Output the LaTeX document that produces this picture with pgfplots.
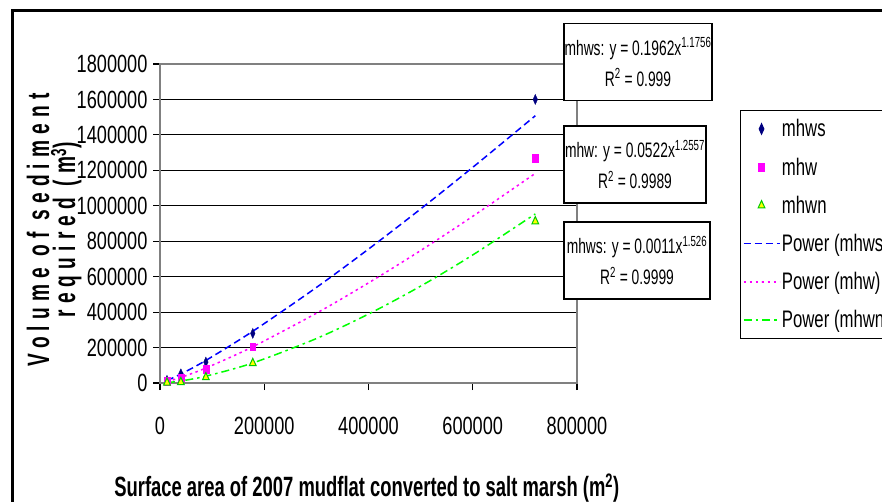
\documentclass[border=0pt]{standalone}
\usepackage{pgfplots}
\pgfplotsset{compat=1.18}
\usepackage{fontspec}
\setmainfont{Liberation Sans}[FakeStretch=0.73]
\newfontfamily\legfont{Liberation Sans}[FakeStretch=0.70]
\newfontfamily\boxfont{Liberation Sans}[FakeStretch=0.66]
\newfontfamily\xlabfont{Liberation Sans}[FakeStretch=0.66]
\newfontfamily\ylabfont{Liberation Sans}[FakeStretch=0.62, LetterSpace=20]
\definecolor{navy}{HTML}{000080}
\definecolor{mag}{HTML}{FF00FF}
\definecolor{lgreen}{HTML}{00FF00}
\definecolor{tyellow}{HTML}{FFFF00}
\definecolor{pblue}{HTML}{0000FF}
\begin{document}
\begin{tikzpicture}
\clip (0,0) rectangle (882bp,-502bp);
\fill[white] (0,0) rectangle (882bp,-502bp);
\draw[line width=3bp] (12.5bp,-520bp) -- (12.5bp,-10.5bp) -- (900bp,-10.5bp);
\begin{axis}[
  at={(160bp,-383bp)}, anchor=south west,
  scale only axis, width=417bp, height=319bp,
  xmin=0, xmax=800000, ymin=0, ymax=1800000,
  xtick={0,200000,400000,600000,800000},
  ytick={0,200000,400000,600000,800000,1000000,1200000,1400000,1600000,1800000},
  scaled ticks=false,
  /pgf/number format/assume math mode=true,
  /pgf/number format/fixed,
  /pgf/number format/1000 sep={},
  tick label style={font=\fontsize{25}{25}\selectfont, black},
  xticklabel style={yshift=-24bp},
  yticklabel style={xshift=-2bp},
  tick align=outside, major tick length=7bp,
  tick pos=left,
  tick style={black, line width=1.2bp},
  ymajorgrids, major grid style={black, line width=1.2bp},
  axis line style={draw=gray, line width=1.5bp},
  xlabel={Surface area of 2007 mudflat converted to salt marsh (m\textsuperscript{2})},
  xlabel style={at={(rel axis cs:0.496,-0.330)}, anchor=center, font=\fontsize{28}{28}\xlabfont\bfseries},
  ylabel={Volume of sediment\\required (m\textsuperscript{3})},
  ylabel style={at={(rel axis cs:-0.254,0.48)}, anchor=center, rotate=0, align=center,
    font=\fontsize{31}{26}\ylabfont\bfseries},
  legend style={at={(rel axis cs:1.391,0.856)}, anchor=north west, draw=black, line width=1.2bp, fill=white,
    font=\fontsize{24}{24}\legfont, row sep=15.4bp, inner xsep=2bp, inner ysep=7bp,
    nodes={inner xsep=1.5bp}},
  legend cell align=left,
  legend image code/.code={\draw[mark repeat=2,mark phase=2,#1] plot coordinates {(0bp,0bp) (18bp,0bp) (36bp,0bp)};},
]
% trend lines (Excel power fits, sampled)
\addplot[pblue, line width=1.5bp, dash pattern=on 7bp off 4bp, smooth, forget plot] coordinates {
 (13400,14000) (40000,50500) (88000,127500) (178000,292000) (300000,539000) (400000,755600) (500000,982000) (600000,1217000) (720000,1508000)};
\addplot[mag, line width=1.5bp, dash pattern=on 2.5bp off 3.5bp, smooth, forget plot] coordinates {
 (13400,7950) (40000,31400) (88000,84500) (178000,204500) (300000,393700) (400000,564900) (500000,747400) (600000,940600) (720000,1182800)};
\addplot[lgreen, line width=1.5bp, dash pattern=on 8bp off 4bp on 2.5bp off 4bp, smooth, forget plot] coordinates {
 (13400,2180) (40000,11600) (88000,38600) (178000,113000) (300000,250800) (400000,389100) (500000,546600) (600000,722600) (720000,954200)};
% data points
\addplot[only marks, mark=diamond*, mark size=5bp, mark options={xscale=0.6, fill=navy, draw=navy}] coordinates {
 (13400,15000) (40000,52000) (88000,118000) (178000,280000) (720000,1600000)};
\addlegendentry{mhws}
\addplot[only marks, mark=square*, mark size=3.8bp, mark options={xscale=0.75, fill=mag, draw=mag}] coordinates {
 (13400,11000) (40000,30000) (88000,77000) (178000,205000) (720000,1268000)};
\addlegendentry{mhw}
\addplot[only marks, mark=triangle*, mark size=4.8bp, mark options={xscale=0.8, fill=tyellow, draw=lgreen!80!black, line width=1bp}] coordinates {
 (13400,2000) (40000,5000) (88000,32000) (178000,112000) (720000,912000)};
\addlegendentry{mhwn}
\addlegendimage{pblue, line width=1.8bp, dash pattern=on 7bp off 4bp}
\addlegendentry{Power (mhws)}
\addlegendimage{mag, line width=1.8bp, dash pattern=on 2.5bp off 3.5bp}
\addlegendentry{Power (mhw)}
\addlegendimage{lgreen, line width=1.8bp, dash pattern=on 8bp off 4bp on 2.5bp off 4bp}
\addlegendentry{Power (mhwn)}
\end{axis}
\tikzset{eqbox/.style={draw=black, line width=1.3bp, fill=white, align=center, inner sep=0pt,
  font=\fontsize{21}{31}\boxfont, minimum height=77bp}}
\node[eqbox, minimum width=148bp] at (638bp,-62bp) {mhws: y = 0.1962x\textsuperscript{1.1756}\\R\textsuperscript{2} = 0.999};
\node[eqbox, minimum width=142bp] at (635bp,-164.5bp) {mhw: y = 0.0522x\textsuperscript{1.2557}\\R\textsuperscript{2} = 0.9989};
\node[eqbox, minimum width=146bp] at (637bp,-260.5bp) {mhws: y = 0.0011x\textsuperscript{1.526}\\R\textsuperscript{2} = 0.9999};
\end{tikzpicture}
\end{document}
